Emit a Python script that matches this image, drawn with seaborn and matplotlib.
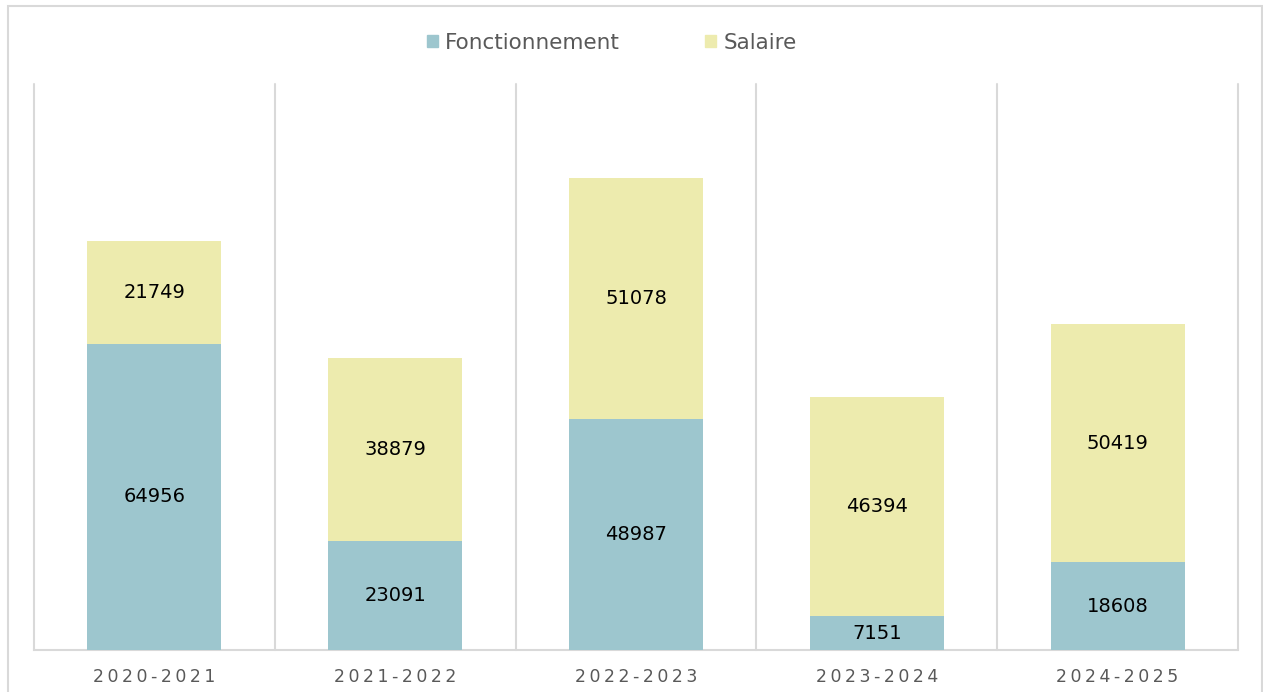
import matplotlib
matplotlib.use("Agg")
import matplotlib.pyplot as plt
import seaborn as sns
import pandas as pd
from matplotlib.patches import Rectangle, Patch

# données
annees = ["2020-2021", "2021-2022", "2022-2023", "2023-2024", "2024-2025"]
fonctionnement = [64956, 23091, 48987, 7151, 18608]
salaire = [21749, 38879, 51078, 46394, 50419]

col_fonct = "#9DC6CE"
col_sal = "#EDEBAE"
gris = "#595959"
ligne = "#D9D9D9"

df = pd.DataFrame({"annee": annees, "fonct": fonctionnement, "sal": salaire})
df["total"] = df["fonct"] + df["sal"]

sns.set_style("white")
fig = plt.figure(figsize=(12.63, 6.92), dpi=100)
ax = fig.add_axes([34 / 1263, 42 / 692, 1204 / 1263, 566 / 692])

sns.barplot(data=df, x="annee", y="total", color=col_sal, width=0.556,
            saturation=1, linewidth=0, ax=ax, zorder=2)
sns.barplot(data=df, x="annee", y="fonct", color=col_fonct, width=0.556,
            saturation=1, linewidth=0, ax=ax, zorder=3)

for i, row in df.iterrows():
    ax.text(i, row["fonct"] / 2, str(row["fonct"]), ha="center", va="center",
            fontsize=14, color="black", zorder=4)
    ax.text(i, row["fonct"] + row["sal"] / 2, str(row["sal"]), ha="center",
            va="center", fontsize=14, color="black", zorder=4)

ax.set_ylim(0, 120000)
ax.set_xlim(-0.5, len(annees) - 0.5)
ax.set_yticks([])
ax.set_xticks(range(len(annees)))
ax.set_xticklabels(["\u2009".join(a) for a in annees], fontsize=12.5, color=gris)
ax.tick_params(axis="x", length=0, pad=13)
ax.set_xticks([i - 0.5 for i in range(len(annees) + 1)], minor=True)
ax.tick_params(axis="x", which="minor", length=0)
ax.grid(axis="x", which="minor", color=ligne, linewidth=1.5, zorder=0)
for t in ax.xaxis.get_minor_ticks():
    t.gridline.set_clip_on(False)
ax.set_xlabel("")
ax.set_ylabel("")
for s in ["top", "left", "right"]:
    ax.spines[s].set_visible(False)
ax.spines["bottom"].set_color(ligne)
ax.spines["bottom"].set_linewidth(1.5)

handles = [Patch(color=col_fonct, label="Fonctionnement"),
           Patch(color=col_sal, label="Salaire")]
fig.legend(handles=handles, loc="center", bbox_to_anchor=(0.4845, 0.938),
           ncol=2, frameon=False, fontsize=15.5, labelcolor=gris,
           handlelength=0.5, handleheight=0.5, handletextpad=0.35,
           columnspacing=3.95)

fig.patches.append(Rectangle((8 / 1263, -0.05), 1254 / 1263, 1.05 - 6 / 692,
                             transform=fig.transFigure, fill=False,
                             edgecolor=ligne, linewidth=1.5))

fig.savefig("out.png", dpi=100)
